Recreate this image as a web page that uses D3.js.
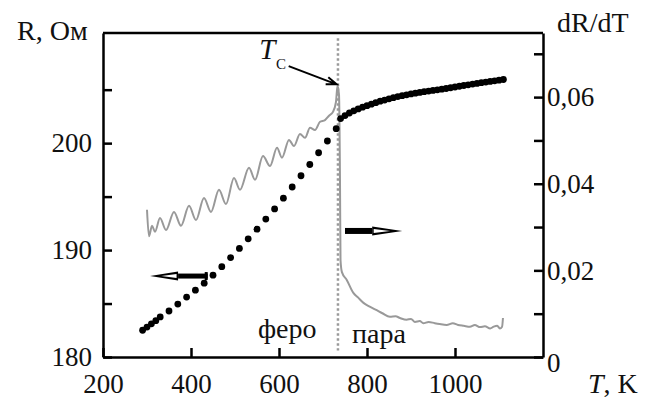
<!DOCTYPE html>
<html>
<head>
<meta charset="utf-8">
<script src="https://cdn.jsdelivr.net/npm/d3@7"></script>
<style>
  body { margin: 0; background: #fff; }
</style>
</head>
<body>
<div id="chart"></div>
<script>
// R(T), black dots
var rTemp = [290, 300, 310, 320, 330, 350, 370, 390, 410, 430, 450, 470, 490, 510, 530,
             550, 570, 590, 610, 630, 650, 670, 690, 710, 730,
             740, 750, 760, 770, 780, 790, 800, 810, 820, 830, 840, 850, 860, 870, 880,
             890, 900, 910, 920, 930, 940, 950, 960, 970, 980, 990, 1000, 1010, 1020,
             1030, 1040, 1050, 1060, 1070, 1080, 1090, 1100, 1110];
var rValue = [182.5, 182.8, 183.1, 183.4, 183.75, 184.3, 184.95, 185.6, 186.25, 186.9, 187.65,
              188.45, 189.3, 190.15, 191.05, 191.95, 192.9, 193.85, 194.85, 195.9, 196.95,
              198.0, 199.1, 200.2, 201.35,
              202.3, 202.58, 202.82, 203.02, 203.2, 203.36, 203.5, 203.64, 203.78, 203.92,
              204.03, 204.14, 204.25, 204.35, 204.44, 204.52, 204.6, 204.67, 204.74, 204.81,
              204.87, 204.93, 204.99, 205.05, 205.11, 205.18, 205.25, 205.32, 205.39, 205.45,
              205.52, 205.58, 205.65, 205.71, 205.77, 205.83, 205.89, 205.95];

// dR/dT, grey line
var dTemp = [300.0, 304.5, 311.4, 318.2, 329.5, 343.2, 361.4, 377.3, 395.5, 411.4, 429.5, 445.5,
             463.6, 479.5, 497.7, 511.4, 531.8, 545.5, 563.6, 579.5, 595.5, 606.8, 622.7, 634.1,
             647.7, 659.1, 670.5, 681.8, 693.2, 704.5, 713.6, 722.7, 729.5, 733.0, 736.4, 738.6,
             739.8, 743, 754, 769, 780, 792, 805, 822, 835, 852, 865, 875, 890, 900, 909, 920,
             928, 940, 954, 965, 981, 995, 1007, 1020, 1034, 1045, 1057, 1068, 1080, 1088, 1096,
             1102, 1107, 1109];
var dValue = [0.0340, 0.0279, 0.0303, 0.0289, 0.0321, 0.0293, 0.0335, 0.0303, 0.0349, 0.0316,
              0.0367, 0.0335, 0.0386, 0.0353, 0.0413, 0.0386, 0.0437, 0.0409, 0.0464, 0.0441,
              0.0483, 0.0460, 0.0501, 0.0487, 0.0515, 0.0506, 0.0529, 0.0524, 0.0543, 0.0547,
              0.0557, 0.0566, 0.0589, 0.0626, 0.0605, 0.0409, 0.0224, 0.0196, 0.0178, 0.0148,
              0.0137, 0.0125, 0.0117, 0.0108, 0.0101, 0.0093, 0.0094, 0.0090, 0.0086, 0.0088,
              0.0081, 0.0083, 0.0078, 0.0081, 0.0078, 0.0076, 0.0074, 0.0078, 0.0074, 0.0072,
              0.0070, 0.0074, 0.0069, 0.0071, 0.0066, 0.0070, 0.0072, 0.0066, 0.0070, 0.0090];

var xTicks = [200, 400, 600, 800, 1000];
var rTicks = [180, 185, 190, 195, 200, 205];
var rLabels = [180, 190, 200];
var dTicks = [0, 0.01, 0.02, 0.03, 0.04, 0.05, 0.06, 0.07];
var dLabels = [0, 0.02, 0.04, 0.06];
var curieT = 734;

var w = 650, h = 398;
var margin = {top: 33, right: 107, bottom: 41, left: 103};
var serif = "'Liberation Serif', 'DejaVu Serif', 'Times New Roman', serif";

var xScale = d3.scaleLinear().domain([200, 1200]).range([margin.left, w - margin.right]);
var rScale = d3.scaleLinear().domain([180, 210.3]).range([h - margin.bottom, margin.top]);
var dScale = d3.scaleLinear().domain([0, 0.0748]).range([h - margin.bottom, margin.top]);

var svg = d3.select("#chart").append("svg")
  .attr("width", w)
  .attr("height", h)
  .attr("font-family", serif)
  .style("font-family", serif);

// Curie temperature marker
svg.append("line")
  .attr("x1", xScale(curieT)).attr("x2", xScale(curieT))
  .attr("y1", rScale(209.8)).attr("y2", rScale(180.6))
  .attr("stroke", "#9a9a9a")
  .attr("stroke-width", 2.5)
  .attr("stroke-dasharray", "2.5,2.5");

var dData = dTemp.map(function(t, i) { return {t: t, v: dValue[i]}; });
var rData = rTemp.map(function(t, i) { return {t: t, v: rValue[i]}; });

var line = d3.line()
  .curve(d3.curveMonotoneX)
  .x(function(d) { return xScale(d.t); })
  .y(function(d) { return dScale(d.v); });

svg.append("path")
  .datum(dData)
  .attr("fill", "none")
  .attr("stroke", "#999")
  .attr("stroke-width", 2)
  .attr("stroke-linejoin", "round")
  .attr("d", line);

svg.selectAll(".dot")
  .data(rData)
  .enter().append("circle")
  .attr("class", "dot")
  .attr("cx", function(d) { return xScale(d.t); })
  .attr("cy", function(d) { return rScale(d.v); })
  .attr("r", 3.4)
  .attr("fill", "#000");

// axes, ticks point inward
var xAxis = d3.axisBottom(xScale).tickValues(xTicks).tickSize(-9).tickSizeOuter(0).tickPadding(17)
  .tickFormat(d3.format("d"));
var rAxis = d3.axisLeft(rScale).tickValues(rTicks).tickSize(-9).tickSizeOuter(0).tickPadding(11)
  .tickFormat(function(d) { return rLabels.indexOf(d) >= 0 ? d : ""; });
var dAxis = d3.axisRight(dScale).tickValues(dTicks).tickSize(-9).tickSizeOuter(0).tickPadding(4)
  .tickFormat(function(d) {
    if (dLabels.indexOf(d) < 0) return "";
    return d === 0 ? "0" : d3.format(".2f")(d).replace(".", ",");
  });

var gx = svg.append("g")
  .attr("transform", "translate(0," + (h - margin.bottom) + ")")
  .call(xAxis);
var gr = svg.append("g")
  .attr("transform", "translate(" + margin.left + ",0)")
  .call(rAxis);
var gd = svg.append("g")
  .attr("transform", "translate(" + (w - margin.right) + ",0)")
  .call(dAxis);

[gx, gr, gd].forEach(function(g) {
  g.attr("font-family", serif).attr("font-size", null);
  g.select(".domain").attr("stroke", "#000").attr("stroke-width", 2.5);
  g.selectAll(".tick line").attr("stroke", "#000").attr("stroke-width", 2.5);
  g.selectAll(".tick text").style("font-size", "27px").attr("fill", "#111");
});
gd.selectAll(".tick text").filter(function(d) { return d === 0; }).attr("dy", "0.55em");

svg.append("line")
  .attr("x1", margin.left).attr("x2", w - margin.right)
  .attr("y1", margin.top).attr("y2", margin.top)
  .attr("stroke", "#000").attr("stroke-width", 2.5);

// axis titles
svg.append("text").attr("x", 17).attr("y", 40).style("font-size", "28px").attr("fill", "#111").text("R, Ом");
svg.append("text").attr("x", 557).attr("y", 32).style("font-size", "28px").attr("fill", "#111").text("dR/dT");
var tk = svg.append("text").attr("x", 588).attr("y", 393).style("font-size", "28px").attr("fill", "#111");
tk.append("tspan").style("font-style", "italic").text("T");
tk.append("tspan").text(", K");

// phase labels
svg.append("text").attr("x", xScale(552)).attr("y", rScale(181.78)).style("font-size", "28px")
  .attr("fill", "#111").text("феро");
svg.append("text").attr("x", xScale(766)).attr("y", rScale(181.31)).style("font-size", "28px")
  .attr("fill", "#111").text("пара");

// T_C label and pointer
svg.append("text").attr("x", xScale(555)).attr("y", rScale(207.9)).attr("fill", "#111")
  .style("font-size", "29px").style("font-style", "italic").text("T");
svg.append("text").attr("x", xScale(593)).attr("y", rScale(206.9)).attr("fill", "#111")
  .style("font-size", "15px").text("C");

var p0 = [xScale(622), rScale(207.2)], p1 = [xScale(731), rScale(205.5)];
var ang = Math.atan2(p1[1] - p0[1], p1[0] - p0[0]);
svg.append("path")
  .attr("d", "M" + p0 + "L" + p1 +
    "M" + [p1[0] - 11 * Math.cos(ang - 0.35), p1[1] - 11 * Math.sin(ang - 0.35)] +
    "L" + p1 +
    "L" + [p1[0] - 11 * Math.cos(ang + 0.35), p1[1] - 11 * Math.sin(ang + 0.35)])
  .attr("fill", "none").attr("stroke", "#000").attr("stroke-width", 2);

// hollow-headed arrows telling which axis each curve uses
function drawArrow(tipX, tailX, y, headLen, shaftHalf) {
  var s = tailX > tipX ? 1 : -1;
  var base = tipX + s * headLen;
  svg.append("path")
    .attr("d", "M" + [base, y - shaftHalf] + "L" + [tailX, y - shaftHalf] +
      "L" + [tailX, y + shaftHalf] + "L" + [base, y + shaftHalf] + "Z")
    .attr("fill", "#000");
  svg.append("path")
    .attr("d", "M" + [tipX, y] + "L" + [base, y - 4.5] + "L" + [base, y + 4.5] + "Z")
    .attr("fill", "#000");
  svg.append("path")
    .attr("d", "M" + [tipX + s * headLen * 0.4, y] + "L" + [base - s * 1.5, y - 2] +
      "L" + [base - s * 1.5, y + 2] + "Z")
    .attr("fill", "#fff");
}

drawArrow(xScale(307), xScale(438), rScale(187.57), 28, 2.5);
svg.append("rect")
  .attr("x", xScale(438) - 3).attr("y", rScale(187.57) - 4)
  .attr("width", 3).attr("height", 8).attr("fill", "#000");
drawArrow(xScale(880), xScale(750), dScale(0.0291), 30, 3);
</script>
</body>
</html>
